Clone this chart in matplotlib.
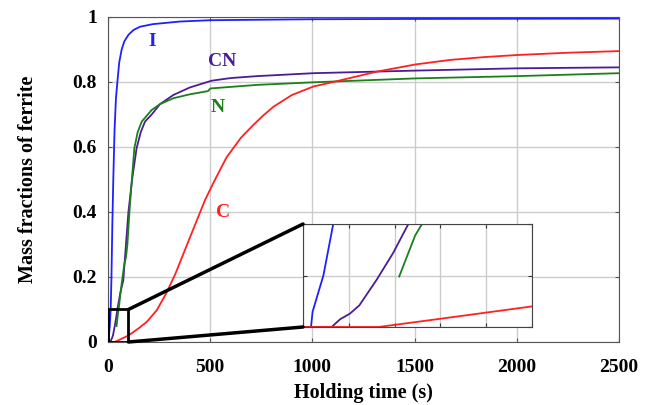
import matplotlib
matplotlib.use("Agg")
import matplotlib.pyplot as plt
from matplotlib.patches import Rectangle, ConnectionPatch

# Read-off points (time in s, ferrite fraction)
t_I = [0, 3.5, 4.2, 8.9, 13.2, 17, 21, 26, 32, 39, 46, 55, 67, 80, 100, 125, 157, 220, 353, 500, 1000, 1500, 2500]
f_I = [0, 0, 0.015, 0.05, 0.1, 0.2, 0.35, 0.5, 0.65, 0.75, 0.80, 0.86, 0.90, 0.925, 0.945, 0.96, 0.97, 0.978, 0.986, 0.99, 0.993, 0.994, 0.995]

t_CN = [0, 12.5, 16.2, 20.5, 24.6, 32.2, 39.4, 46, 60, 75, 88, 100, 118, 140, 160, 181, 214, 255, 320, 400, 508, 600, 729, 1005, 1505, 2003, 2500]
f_CN = [0, 0, 0.0075, 0.013, 0.021, 0.046, 0.072, 0.1, 0.15, 0.19, 0.30, 0.40, 0.50, 0.596, 0.645, 0.678, 0.70, 0.732, 0.76, 0.783, 0.804, 0.812, 0.818, 0.827, 0.835, 0.842, 0.845]

t_N = [42, 49, 52, 65, 80, 88, 95, 105, 116, 129, 145, 165, 214, 255, 320, 400, 490, 500, 729, 1005, 1505, 2003, 2500]
f_N = [0.049, 0.089, 0.1, 0.17, 0.24, 0.26, 0.30, 0.40, 0.493, 0.596, 0.645, 0.678, 0.714, 0.732, 0.75, 0.762, 0.772, 0.78, 0.791, 0.799, 0.811, 0.818, 0.827]

t_C = [0, 33, 60, 100, 150, 190, 239, 287, 330, 400, 475, 520, 580, 650, 710, 760, 810, 900, 1005, 1103, 1317, 1505, 1676, 1850, 2003, 2250, 2500]
f_C = [0, 0, 0.008, 0.02, 0.042, 0.062, 0.098, 0.152, 0.21, 0.32, 0.437, 0.495, 0.568, 0.628, 0.667, 0.697, 0.724, 0.76, 0.786, 0.80, 0.832, 0.854, 0.868, 0.877, 0.883, 0.89, 0.895]

series = [
    ("I", t_I, f_I, "#1f1fff", (216, 0.925)),
    ("CN", t_CN, f_CN, "#4b1c96", (559, 0.862)),
    ("N", t_N, f_N, "#1b7f1b", (539, 0.72)),
    ("C", t_C, f_C, "#ff2020", (564, 0.397)),
]

plt.rcParams["font.family"] = "Liberation Serif"
plt.rcParams["font.weight"] = "bold"

fig = plt.figure(figsize=(6.58, 4.05), dpi=100)
ax = fig.add_axes([0.1641, 0.1556, 0.7766, 0.8025])

for name, t, f, c, pos in series:
    ax.plot(t, f, color=c, lw=1.3, zorder=3)
    ax.text(pos[0], pos[1], name, color=c, fontsize=14, fontweight="bold",
            ha="center", va="center")

ax.set_xlim(0, 2500)
ax.set_ylim(0, 1)
ax.set_xticks([0, 500, 1000, 1500, 2000, 2500])
ax.set_yticks([0, 0.2, 0.4, 0.6, 0.8, 1])
ax.set_yticklabels(["0", "0.2", "0.4", "0.6", "0.8", "1"])
ax.grid(True, color="#cccccc", lw=1)
ax.tick_params(direction="in", length=3, labelsize=14, top=True, right=True,
               color="#555555", pad=8)
ax.tick_params(axis="x", pad=12)
for s in ax.spines.values():
    s.set_color("#555555")
ax.set_xlabel("Holding time (s)", fontsize=14.5, fontweight="bold", labelpad=5)
ax.set_ylabel("Mass fractions of ferrite", fontsize=14.5, fontweight="bold", labelpad=25)

# zoom box
ax.add_patch(Rectangle((0, 0), 100, 0.1, fill=False, ec="black", lw=2, zorder=5))

axins = fig.add_axes([0.4605, 0.1926, 0.348, 0.2543])
for name, t, f, c, pos in series:
    axins.plot(t, f, color=c, lw=1.3)
axins.set_xlim(0, 100)
axins.set_ylim(0, 0.1)
axins.set_xticks([0, 20, 40, 60, 80, 100])
axins.set_yticks([0, 0.05, 0.1])
axins.set_xticklabels([])
axins.set_yticklabels([])
axins.grid(True, color="#cccccc", lw=1)
axins.tick_params(direction="in", length=3, top=True, right=True, color="#333333")
for s in axins.spines.values():
    s.set_color("#444444")

for ya, yb in [(0.1, 1), (0, 0)]:
    con = ConnectionPatch(xyA=(100, ya), coordsA=ax.transData,
                          xyB=(0, yb), coordsB=axins.transAxes,
                          color="black", lw=2.5, zorder=6)
    fig.add_artist(con)

fig.savefig("out.png", dpi=100)
